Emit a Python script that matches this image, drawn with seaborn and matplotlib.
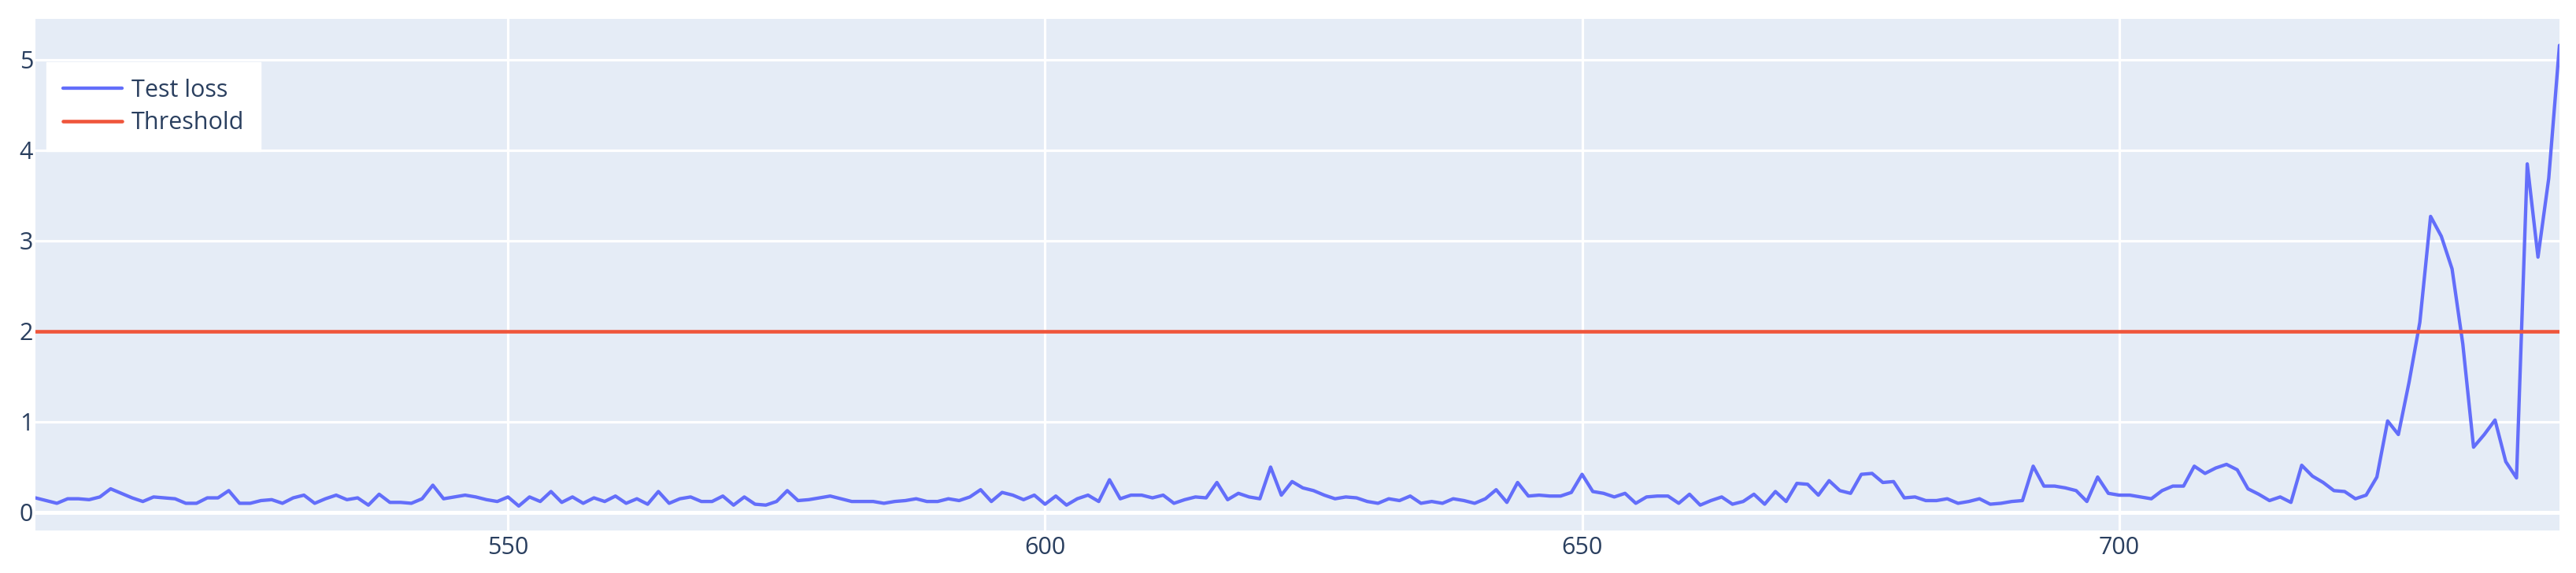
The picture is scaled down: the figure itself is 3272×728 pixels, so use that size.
import matplotlib
matplotlib.use("Agg")
import matplotlib.pyplot as plt
import seaborn as sns

# Epoch index on the x axis (consecutive integers 506..741)
epochs = list(range(506, 742))

# Test loss, in chunks along the x axis
loss_506_543 = [
    0.16, 0.13, 0.10, 0.15, 0.15, 0.14, 0.17, 0.26, 0.21, 0.16,
    0.12, 0.17, 0.16, 0.15, 0.10, 0.10, 0.16, 0.16, 0.24, 0.10,
    0.10, 0.13, 0.14, 0.10, 0.16, 0.19, 0.10, 0.15, 0.19, 0.14,
    0.16, 0.08, 0.20, 0.11, 0.11, 0.10, 0.15, 0.30,
]
loss_544_582 = [
    0.15, 0.17, 0.19, 0.17, 0.14, 0.12, 0.17, 0.07, 0.17, 0.12,
    0.23, 0.11, 0.17, 0.10, 0.16, 0.12, 0.18, 0.10, 0.15, 0.09,
    0.23, 0.10, 0.15, 0.17, 0.12, 0.12, 0.18, 0.08, 0.17, 0.09,
    0.08, 0.12, 0.24, 0.13, 0.14, 0.16, 0.18, 0.15, 0.12,
]
loss_583_622 = [
    0.12, 0.12, 0.10, 0.12, 0.13, 0.15, 0.12, 0.12, 0.15, 0.13,
    0.17, 0.25, 0.12, 0.22, 0.19, 0.14, 0.19, 0.09, 0.18, 0.08,
    0.15, 0.19, 0.12, 0.36, 0.15, 0.19, 0.19, 0.16, 0.19, 0.10,
    0.14, 0.17, 0.16, 0.33, 0.14, 0.21, 0.17, 0.15, 0.50, 0.19,
]
loss_623_662 = [
    0.34, 0.27, 0.24, 0.19, 0.15, 0.17, 0.16, 0.12, 0.10, 0.15,
    0.13, 0.18, 0.10, 0.12, 0.10, 0.15, 0.13, 0.10, 0.15, 0.25,
    0.11, 0.33, 0.18, 0.19, 0.18, 0.18, 0.22, 0.42, 0.23, 0.21,
    0.17, 0.21, 0.10, 0.17, 0.18, 0.18, 0.10, 0.20, 0.08, 0.13,
]
loss_663_702 = [
    0.17, 0.09, 0.12, 0.20, 0.09, 0.23, 0.12, 0.32, 0.31, 0.19,
    0.35, 0.24, 0.21, 0.42, 0.43, 0.33, 0.34, 0.16, 0.17, 0.13,
    0.13, 0.15, 0.10, 0.12, 0.15, 0.09, 0.10, 0.12, 0.13, 0.51,
    0.29, 0.29, 0.27, 0.24, 0.12, 0.39, 0.21, 0.19, 0.19, 0.17,
]
loss_703_741 = [
    0.15, 0.24, 0.29, 0.29, 0.51, 0.43, 0.49, 0.53, 0.47, 0.26,
    0.20, 0.13, 0.17, 0.11, 0.52, 0.40, 0.33, 0.24, 0.23, 0.15,
    0.19, 0.39, 1.01, 0.86, 1.44, 2.10, 3.27, 3.05, 2.69, 1.86,
    0.72, 0.86, 1.02, 0.56, 0.38, 3.85, 2.82, 3.69, 5.16,
]
test_loss = (loss_506_543 + loss_544_582 + loss_583_622
             + loss_623_662 + loss_663_702 + loss_703_741)

THRESHOLD = 2.0
x_ticks = [550, 600, 650, 700]
y_ticks = [0, 1, 2, 3, 4, 5]

BLUE = "#636EFA"
RED = "#EF553B"
BG = "#E5ECF6"
TEXT = "#2a3f5f"

sns.set_theme(style="darkgrid", rc={"axes.facecolor": BG, "grid.color": "white"})
plt.rcParams["font.family"] = ["Open Sans", "DejaVu Sans"]

fig = plt.figure(figsize=(32.73, 7.28), dpi=100)
ax = fig.add_axes([0.01375, 0.0738, 0.97953, 0.8932])

sns.lineplot(x=epochs, y=test_loss, ax=ax, color=BLUE, linewidth=3.1,
             label="Test loss", zorder=3)
ax.axhline(THRESHOLD, color=RED, linewidth=3.3, label="Threshold", zorder=4)

# plotly-style zero line (thicker white)
ax.axhline(0, color="white", linewidth=3.6, zorder=1)

ax.set_xlim(506, 741)
ax.set_ylim(-0.203, 5.452)
ax.set_xticks(x_ticks)
ax.set_yticks(y_ticks)
ax.grid(True, color="white", linewidth=2.3)
ax.set_axisbelow(True)
for s in ax.spines.values():
    s.set_visible(False)

ax.tick_params(axis="both", length=0, labelsize=22, labelcolor=TEXT)
ax.tick_params(axis="x", pad=5)
ax.tick_params(axis="y", pad=2)
ax.set_xlabel("")
ax.set_ylabel("")

leg = ax.legend(loc="upper left", bbox_to_anchor=(0.0044, 0.915),
                borderaxespad=0, frameon=True, fancybox=False,
                fontsize=22, handlelength=2.45, handletextpad=0.4,
                labelspacing=0.37, borderpad=0.68)
leg.get_frame().set_facecolor("white")
leg.get_frame().set_edgecolor("white")
leg.get_frame().set_alpha(1)
for t in leg.get_texts():
    t.set_color(TEXT)

fig.savefig("out.png", dpi=100)
